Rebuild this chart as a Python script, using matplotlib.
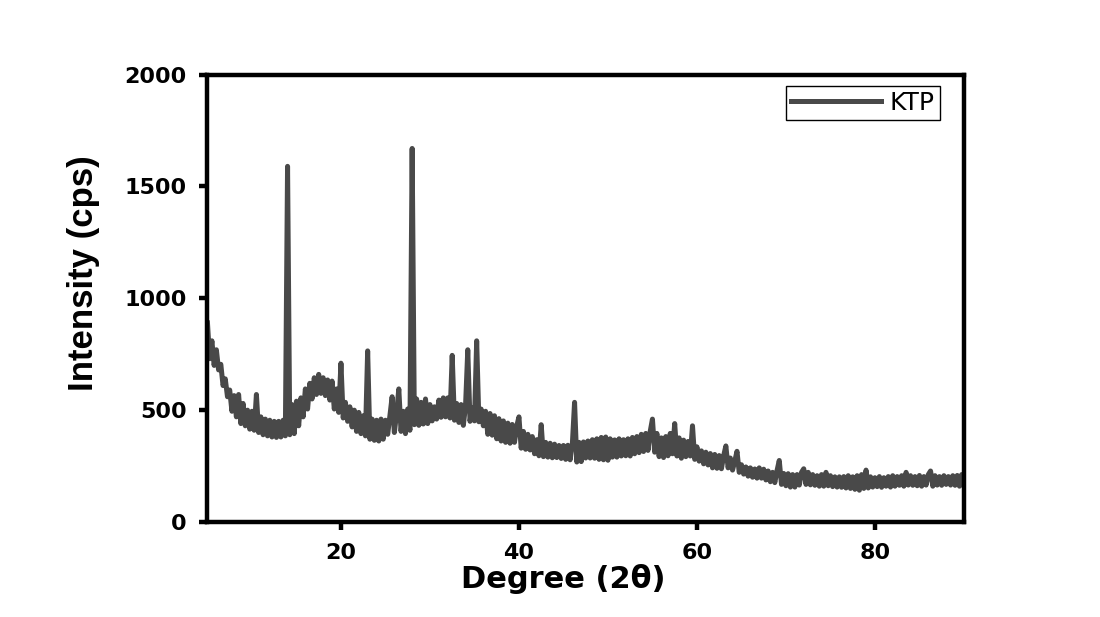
import matplotlib
matplotlib.use('Agg')
import matplotlib.pyplot as plt
import numpy as np

plt.rcParams['path.simplify'] = False

# XRD scan, 0.25 deg step from 5 to 90 (2theta)
two_theta = np.arange(5.0, 90.001, 0.25)

# intensity (cps), split by 15 deg ranges
y_05_20 = [890, 730, 810, 700, 770, 680, 705, 610, 640, 560, 590, 495,
           565, 470, 570, 440, 530, 430, 500, 415, 495, 410, 570, 400,
           470, 390, 460, 385, 455, 380, 450, 378, 450, 380, 455, 385,
           1590, 390, 525, 395, 540, 430, 555, 470, 595, 505, 620, 550,
           645, 570, 660, 575, 645, 565, 635, 545, 630, 505, 595, 490]
y_20_35 = [710, 465, 535, 450, 515, 425, 500, 405, 490, 395, 475, 385,
           765, 370, 460, 365, 455, 362, 460, 370, 455, 392, 475, 560,
           400, 485, 595, 405, 495, 395, 505, 410, 1670, 435, 550, 432,
           535, 438, 550, 440, 525, 452, 515, 460, 545, 468, 555, 470,
           555, 465, 745, 455, 530, 445, 525, 432, 520, 770, 450, 510]
y_35_50 = [452, 810, 448, 505, 430, 495, 392, 485, 388, 475, 372, 462,
           362, 452, 356, 442, 352, 436, 356, 428, 470, 330, 405, 325,
           392, 322, 382, 305, 368, 296, 435, 292, 356, 290, 352, 287,
           348, 288, 342, 284, 342, 280, 343, 278, 348, 535, 268, 356,
           270, 358, 286, 362, 286, 368, 285, 372, 280, 378, 278, 380]
y_50_65 = [276, 372, 290, 367, 290, 372, 295, 368, 296, 372, 295, 378,
           305, 382, 310, 392, 315, 396, 320, 405, 460, 312, 396, 292,
           376, 288, 382, 296, 396, 305, 440, 295, 376, 285, 366, 292,
           360, 295, 430, 280, 336, 272, 318, 260, 312, 255, 306, 242,
           302, 240, 297, 238, 296, 340, 242, 286, 232, 272, 316, 222]
y_65_80 = [256, 214, 246, 205, 242, 200, 237, 196, 242, 196, 236, 188,
           228, 180, 222, 176, 230, 275, 168, 217, 162, 216, 156, 212,
           156, 212, 165, 222, 238, 168, 222, 166, 212, 164, 207, 160,
           212, 160, 222, 162, 207, 158, 202, 156, 202, 155, 203, 152,
           207, 150, 202, 146, 207, 142, 212, 150, 232, 152, 202, 156]
y_80_90 = [198, 158, 203, 155, 198, 160, 203, 156, 207, 160, 203, 164,
           207, 160, 222, 165, 207, 164, 203, 162, 208, 160, 203, 165,
           212, 228, 160, 207, 165, 203, 164, 207, 168, 203, 165, 207,
           164, 208, 160, 212, 165]

intensity = np.array(y_05_20 + y_20_35 + y_35_50 + y_50_65 + y_65_80 + y_80_90)

xticks = [20, 40, 60, 80]
yticks = [0, 500, 1000, 1500, 2000]

fig = plt.figure(figsize=(11, 6.17), dpi=100)
ax = fig.add_axes([0.1886, 0.154, 0.6877, 0.725])

ax.plot(two_theta, intensity, color='#494949', lw=3.6, label='KTP')

ax.set_xlim(5, 90)
ax.set_ylim(0, 2000)
ax.set_xticks(xticks)
ax.set_yticks(yticks)

for s in ax.spines.values():
    s.set_linewidth(3.2)
ax.tick_params(direction='out', length=6, width=3.2, pad=9, labelsize=16)
for lab in ax.get_xticklabels() + ax.get_yticklabels():
    lab.set_fontweight('bold')
    lab.set_family('DejaVu Sans')

ax.set_xlabel('Degree (2θ)', fontsize=22, fontweight='bold', family='DejaVu Sans')
ax.set_ylabel('Intensity (cps)', fontsize=25, fontweight='bold', family='Liberation Sans')
ax.xaxis.set_label_coords(0.47, -0.093)
ax.yaxis.set_label_coords(-0.142, 0.557)

leg = ax.legend(loc='upper right', bbox_to_anchor=(0.968, 0.975), borderaxespad=0,
                fancybox=False, edgecolor='black', framealpha=1,
                prop={'family': 'DejaVu Sans', 'size': 18},
                handlelength=3.6, handletextpad=0.35, borderpad=0.2)
leg.get_frame().set_linewidth(1.0)

fig.savefig('out.png', dpi=100, facecolor='white')
